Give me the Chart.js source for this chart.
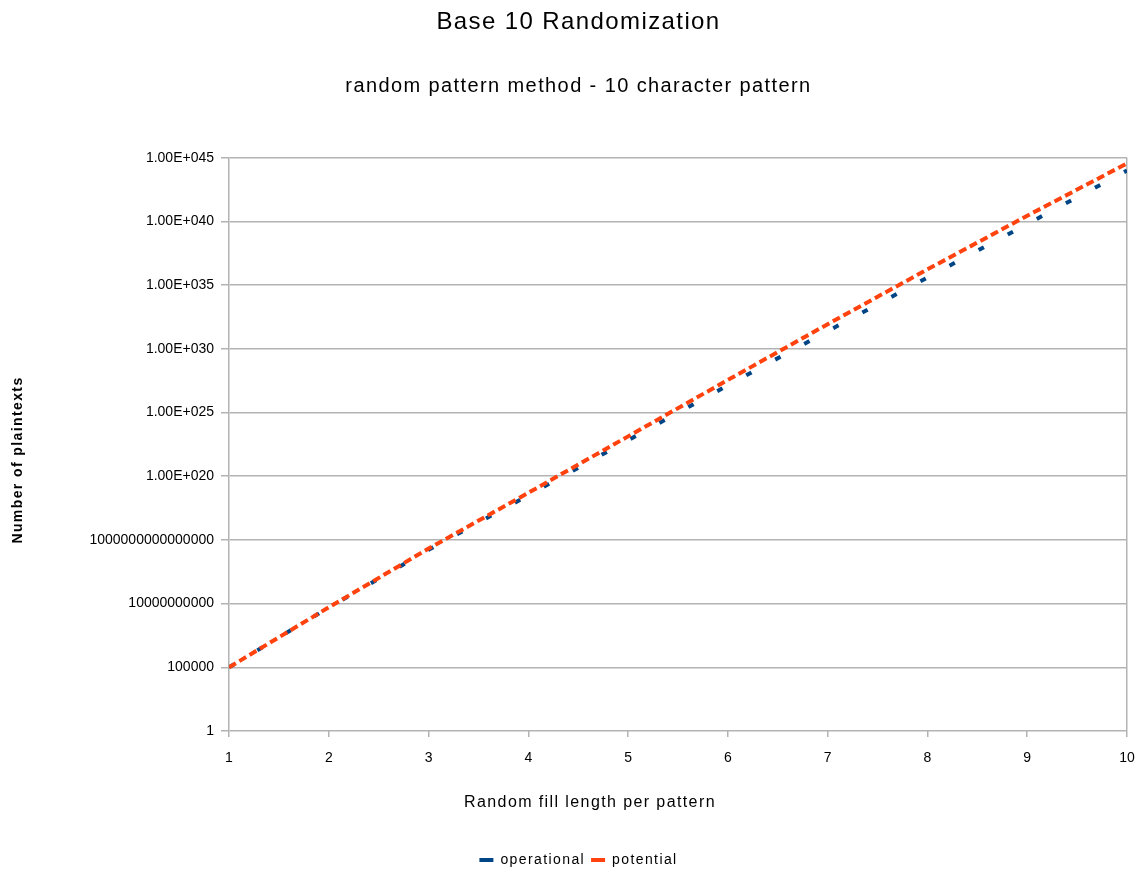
<!DOCTYPE html>
<html>
<head>
<meta charset="utf-8">
<script src="https://cdn.jsdelivr.net/npm/chart.js@4.4.1/dist/chart.umd.min.js"></script>
<style>
  html, body { margin: 0; padding: 0; background: #ffffff; }
  #wrap { width: 1141px; height: 877px; position: relative; }
</style>
</head>
<body>
<div id="wrap"><canvas id="c" width="1141" height="877"></canvas></div>
<script>
// ---- data ----
const fillLengths = [1, 2, 3, 4, 5, 6, 7, 8, 9, 10];
const operational = [1e5, 4.9e9, 1.66e14, 3.16e18, 6.76e22, 1.38e27, 2.45e31, 3.98e35, 6.31e39, 1.0e44];
const potential   = [1e5, 5.13e9, 2.09e14, 5.0e18, 1.35e23, 3.63e27, 8.7e31, 1.74e36, 2.82e40, 3.6e44];
const yTickValues = [1, 1e5, 1e10, 1e15, 1e20, 1e25, 1e30, 1e35, 1e40, 1e45];
const yTickLabels = ['1', '100000', '10000000000', '1000000000000000', '1.00E+020', '1.00E+025',
                     '1.00E+030', '1.00E+035', '1.00E+040', '1.00E+045'];
const xTickLabels = ['1', '2', '3', '4', '5', '6', '7', '8', '9', '10'];
const seriesNames = ['operational', 'potential'];
const titleText = 'Base 10 Randomization';
const subtitleText = 'random pattern method - 10 character pattern';
const xTitleText = 'Random fill length per pattern';
const yTitleText = 'Number of plaintexts';

const FONT = "'Liberation Sans', Arial, sans-serif";
const GRID = '#b3b3b3';
const BLUE = '#004586';
const RED = '#ff420e';
const SPACING = '1.4px';

// letter spacing for titles / legend (drawn before datasets); tick labels (z=1) drawn without it
const textPlugin = {
  id: 'textSpacing',
  beforeUpdate(chart) { chart.ctx.letterSpacing = SPACING; },
  beforeDraw(chart) { chart.ctx.letterSpacing = SPACING; },
  afterDatasetsDraw(chart) { chart.ctx.letterSpacing = '0px'; },
  afterDraw(chart) {
    const ctx = chart.ctx;
    ctx.save();
    ctx.letterSpacing = SPACING;
    ctx.fillStyle = '#000';
    ctx.textAlign = 'center';
    ctx.textBaseline = 'middle';
    ctx.font = '16px ' + FONT;
    ctx.fillText(xTitleText, 590, 803);
    ctx.translate(18, 460);
    ctx.rotate(-Math.PI / 2);
    ctx.font = 'bold 14px ' + FONT;
    ctx.fillText(yTitleText, 0, 0);
    ctx.restore();
    ctx.letterSpacing = '0px';
  }
};

new Chart(document.getElementById('c'), {
  type: 'line',
  data: {
    datasets: [
      {
        label: seriesNames[0],
        data: fillLengths.map((x, i) => ({ x, y: operational[i] })),
        borderColor: BLUE,
        backgroundColor: BLUE,
        borderWidth: 4,
        borderDash: [6, 27],
        pointRadius: 0,
        tension: 0,
        order: 1
      },
      {
        label: seriesNames[1],
        data: fillLengths.map((x, i) => ({ x, y: potential[i] })),
        borderColor: RED,
        backgroundColor: RED,
        borderWidth: 4,
        borderDash: [8, 4],
        pointRadius: 0,
        tension: 0,
        order: 0
      }
    ]
  },
  options: {
    responsive: false,
    animation: false,
    devicePixelRatio: 1,
    layout: { padding: { left: 30, right: 14, top: 0, bottom: 0 } },
    plugins: {
      title: {
        display: true,
        text: titleText,
        color: '#000',
        font: { family: FONT, size: 24, weight: 'normal' },
        padding: { top: 8, bottom: 19 }
      },
      subtitle: {
        display: true,
        text: subtitleText,
        color: '#000',
        font: { family: FONT, size: 20, weight: 'normal' },
        padding: { top: 19, bottom: 59 }
      },
      legend: {
        position: 'bottom',
        labels: {
          usePointStyle: true,
          pointStyle: 'line',
          pointStyleWidth: 14,
          boxHeight: 8,
          color: '#000',
          font: { family: FONT, size: 14 },
          padding: 6,
          sort: (a, b) => a.datasetIndex - b.datasetIndex
        }
      },
      tooltip: { enabled: false }
    },
    scales: {
      x: {
        type: 'linear',
        min: 1,
        max: 10,
        afterBuildTicks: (s) => { s.ticks = fillLengths.map(v => ({ value: v })); },
        ticks: {
          color: '#000',
          font: { family: FONT, size: 14, lineHeight: 3 },
          padding: 0,
          maxRotation: 0,
          z: 1,
          callback: (v, i) => xTickLabels[i]
        },
        grid: {
          drawOnChartArea: true,
          color: (c) => (c.index === fillLengths.length - 1 ? GRID : 'rgba(0,0,0,0)'),
          tickColor: GRID,
          tickLength: 6,
          lineWidth: 1.5
        },
        border: { display: false },
        afterFit: (s) => { s.height = 116; }
      },
      y: {
        type: 'logarithmic',
        min: 1,
        max: 1e45,
        afterBuildTicks: (s) => { s.ticks = yTickValues.map(v => ({ value: v })); },
        ticks: {
          color: '#000',
          font: { family: FONT, size: 14 },
          padding: 7,
          autoSkip: false,
          z: 1,
          callback: (v, i) => yTickLabels[i]
        },
        grid: {
          color: GRID,
          tickColor: GRID,
          tickLength: 8,
          lineWidth: 1.5
        },
        border: { display: true, color: GRID, width: 1.5 },
        title: { display: false },
        afterFit: (s) => { s.width = 199; }
      }
    }
  },
  plugins: [textPlugin]
});
</script>
</body>
</html>
